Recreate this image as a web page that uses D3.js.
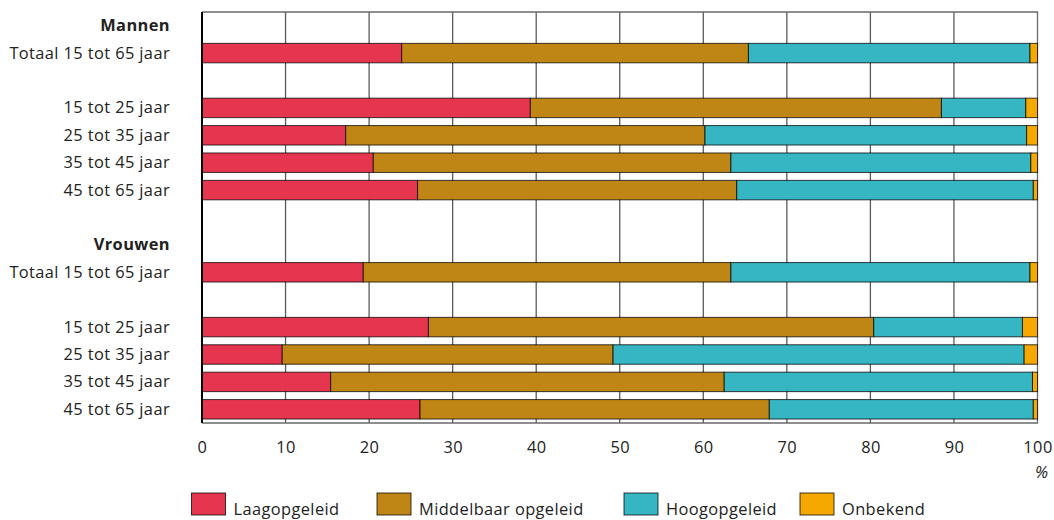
<!DOCTYPE html>
<html>
<head>
<meta charset="utf-8">
<script src="https://cdn.jsdelivr.net/npm/d3@7"></script>
<style>
  html, body { margin: 0; padding: 0; background: #fff; }
  svg { display: block; font-family: "Open Sans", "Noto Sans", sans-serif; }
</style>
</head>
<body>
<svg id="chart" width="1054" height="520"></svg>
<script>
// Row labels (headers and spacer rows included, in display order)
const rowLabels = [
  "Mannen", "Totaal 15 tot 65 jaar", "",
  "15 tot 25 jaar", "25 tot 35 jaar", "35 tot 45 jaar", "45 tot 65 jaar", "",
  "Vrouwen", "Totaal 15 tot 65 jaar", "",
  "15 tot 25 jaar", "25 tot 35 jaar", "35 tot 45 jaar", "45 tot 65 jaar"
];
const headerRows = [0, 8];

// Share per education level (%), null where the row has no bar
const laag      = [null, 23.9, null, 39.3, 17.2, 20.5, 25.8, null, null, 19.3, null, 27.1,  9.6, 15.4, 26.1];
const middelbaar= [null, 41.5, null, 49.2, 43.0, 42.8, 38.2, null, null, 44.0, null, 53.3, 39.6, 47.1, 41.8];
const hoog      = [null, 33.7, null, 10.1, 38.5, 35.9, 35.5, null, null, 35.8, null, 17.8, 49.2, 36.9, 31.6];
const onbekend  = [null,  0.9, null,  1.4,  1.3,  0.8,  0.5, null, null,  0.9, null,  1.8,  1.6,  0.6,  0.5];

const seriesNames = ["Laagopgeleid", "Middelbaar opgeleid", "Hoogopgeleid", "Onbekend"];
const seriesColors = ["#e6354f", "#bf8615", "#36b5c2", "#f5a800"];
const xTicks = [0, 10, 20, 30, 40, 50, 60, 70, 80, 90, 100];

const svg = d3.select("#chart");
const plotLeft = 202, plotRight = 1037.5, plotTop = 12, plotBottom = 423;
const fontSize = 16.4;
const spacing = 0.4;
const textColor = "#222";

const x = d3.scaleLinear().domain([0, 100]).range([plotLeft, plotRight]);
const y = d3.scaleBand().domain(d3.range(rowLabels.length)).range([plotTop, plotBottom])
  .paddingInner(0.29).paddingOuter(0.145);

// Build table for stacking
const table = rowLabels.map((label, i) => ({
  row: i,
  Laagopgeleid: laag[i],
  "Middelbaar opgeleid": middelbaar[i],
  Hoogopgeleid: hoog[i],
  Onbekend: onbekend[i]
})).filter(d => d.Laagopgeleid !== null);

const stacked = d3.stack().keys(seriesNames)(table);

// Vertical gridlines
svg.append("g").selectAll("line")
  .data(xTicks.filter(t => t > 0 && t < 100))
  .join("line")
  .attr("x1", d => x(d)).attr("x2", d => x(d))
  .attr("y1", plotTop).attr("y2", plotBottom)
  .attr("stroke", "#5a5a5a").attr("stroke-width", 1.3);

// Frame (top, right, bottom)
svg.append("path")
  .attr("d", `M${plotLeft},${plotTop}H${plotRight}V${plotBottom}H${plotLeft}`)
  .attr("stroke", "#6a6a6a").attr("stroke-width", 1.3).attr("fill", "none");

// Bars
svg.append("g").selectAll("g")
  .data(stacked)
  .join("g")
  .attr("fill", (d, i) => seriesColors[i])
  .selectAll("rect")
  .data(d => d)
  .join("rect")
  .attr("x", d => x(d[0]))
  .attr("width", d => x(d[1]) - x(d[0]))
  .attr("y", d => y(d.data.row))
  .attr("height", y.bandwidth())
  .attr("stroke", "rgba(0,0,0,0.75)")
  .attr("stroke-width", 1);

// Left axis line
svg.append("line")
  .attr("x1", plotLeft).attr("x2", plotLeft).attr("y1", plotTop).attr("y2", plotBottom)
  .attr("stroke", "#000").attr("stroke-width", 2);

// Row labels
svg.append("g").selectAll("text")
  .data(rowLabels.map((t, i) => ({ t, i })).filter(d => d.t))
  .join("text")
  .attr("x", 170)
  .attr("y", d => y(d.i) + y.bandwidth() / 2)
  .attr("dy", "0.33em")
  .attr("text-anchor", "end")
  .attr("font-size", fontSize)
  .attr("letter-spacing", spacing)
  .attr("font-weight", d => headerRows.includes(d.i) ? 700 : 400)
  .attr("fill", textColor)
  .text(d => d.t);

// X axis tick labels
const xAxis = d3.axisBottom(x).tickValues(xTicks).tickSize(0).tickPadding(0);
const gx = svg.append("g").attr("transform", `translate(0,${plotBottom})`).call(xAxis);
gx.select(".domain").remove();
gx.selectAll("text")
  .attr("y", 24)
  .attr("dy", "0.35em")
  .attr("font-size", fontSize)
  .attr("letter-spacing", spacing)
  .attr("font-family", "\"Open Sans\", sans-serif")
  .attr("fill", textColor);

// Unit label
svg.append("text")
  .attr("x", plotRight + 4).attr("y", 472).attr("dy", "0.35em")
  .attr("text-anchor", "middle")
  .attr("font-size", fontSize).attr("font-style", "italic")
  .attr("fill", textColor)
  .text("%");

// Legend
const legendX = [191.5, 377, 624, 800];
const legend = svg.append("g").selectAll("g")
  .data(seriesNames)
  .join("g")
  .attr("transform", (d, i) => `translate(${legendX[i]},493)`);
legend.append("rect")
  .attr("width", 34).attr("height", 22)
  .attr("fill", (d, i) => seriesColors[i])
  .attr("stroke", "rgba(0,0,0,0.75)").attr("stroke-width", 1);
legend.append("text")
  .attr("x", 42).attr("y", 16).attr("dy", "0.35em")
  .attr("font-size", fontSize).attr("letter-spacing", spacing).attr("fill", textColor)
  .text(d => d);
</script>
</body>
</html>
